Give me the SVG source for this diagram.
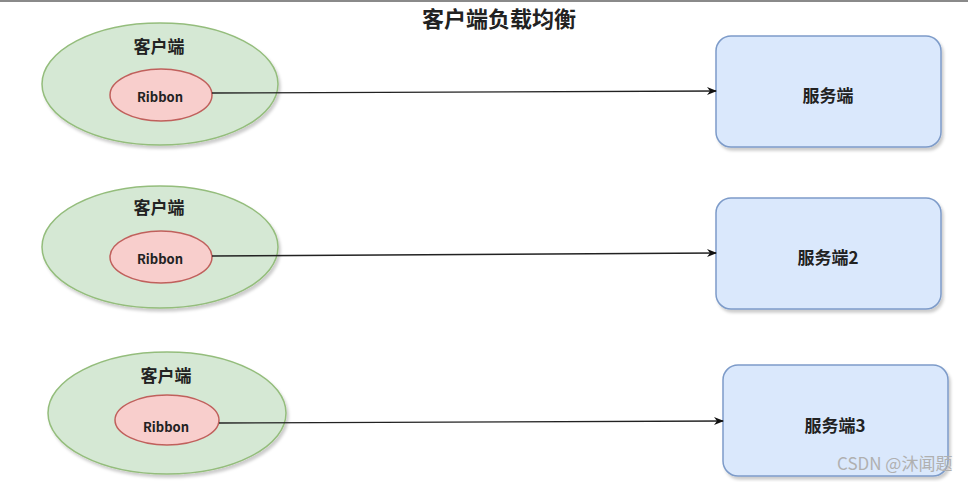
<svg xmlns="http://www.w3.org/2000/svg" width="968" height="482" viewBox="0 0 968 482">
<defs>
<filter id="sh" x="-10%" y="-10%" width="130%" height="130%"><feDropShadow dx="2" dy="3" stdDeviation="1.5" flood-color="#000" flood-opacity="0.2"/></filter>
<marker id="ar" markerWidth="10" markerHeight="10" refX="9" refY="5" orient="auto" markerUnits="userSpaceOnUse"><path d="M0,1 L10,5 L0,9 L3,5 Z" fill="#111"/></marker>
</defs>
<style>
.cli{fill:#d5e8d4;stroke:#94bd7c;stroke-width:1.5}
.rib{fill:#f8cecc;stroke:#c0605c;stroke-width:1.5}
.srv{fill:#dae8fc;stroke:#7d9bc9;stroke-width:1.5}
.t{font-family:"Noto Sans CJK SC","Noto Sans",sans-serif;font-weight:bold;fill:#222;text-anchor:middle;dominant-baseline:central}
.lk{stroke:#222;stroke-width:1.3;fill:none;marker-end:url(#ar)}
</style>
<rect width="968" height="482" fill="#fff"/>
<rect x="0" y="0" width="968" height="2" fill="#8a8a8a"/>
<text class="t" x="499" y="17" font-size="22">客户端负载均衡</text>
<g id="client1">
<ellipse class="cli" cx="160" cy="84" rx="118" ry="61" filter="url(#sh)"/>
<text class="t" x="159" y="45" font-size="17">客户端</text>
</g>
<g id="ribbon1">
<ellipse class="rib" cx="161" cy="95" rx="51" ry="26"/>
<text class="t" x="160" y="96" font-size="13">Ribbon</text>
</g>
<g id="client2">
<ellipse class="cli" cx="160" cy="247" rx="118" ry="61" filter="url(#sh)"/>
<text class="t" x="159" y="206" font-size="17">客户端</text>
</g>
<g id="ribbon2">
<ellipse class="rib" cx="161" cy="257" rx="51" ry="26"/>
<text class="t" x="160" y="258" font-size="13">Ribbon</text>
</g>
<g id="client3">
<ellipse class="cli" cx="167" cy="413" rx="119" ry="61" filter="url(#sh)"/>
<text class="t" x="166" y="374" font-size="17">客户端</text>
</g>
<g id="ribbon3">
<ellipse class="rib" cx="167" cy="420" rx="52" ry="25"/>
<text class="t" x="166" y="426" font-size="13">Ribbon</text>
</g>
<g id="server1">
<rect class="srv" x="716" y="36" width="225" height="111" rx="15" filter="url(#sh)"/>
<text class="t" x="828" y="94" font-size="17">服务端</text>
</g>
<g id="server2">
<rect class="srv" x="716" y="198" width="225" height="111" rx="15" filter="url(#sh)"/>
<text class="t" x="828" y="256" font-size="17">服务端2</text>
</g>
<g id="server3">
<rect class="srv" x="723" y="365" width="225" height="111" rx="15" filter="url(#sh)"/>
<text class="t" x="835" y="424" font-size="17">服务端3</text>
</g>
<g id="connectors">
<path class="lk" d="M212,93 L716,91"/>
<path class="lk" d="M212,256 L716,253"/>
<path class="lk" d="M219,423 L723,421"/>
</g>
<text x="837" y="470" font-family="'Noto Sans CJK SC','Noto Sans',sans-serif" font-size="17" fill="#b0b0b0">CSDN @沐闻题</text>
</svg>
